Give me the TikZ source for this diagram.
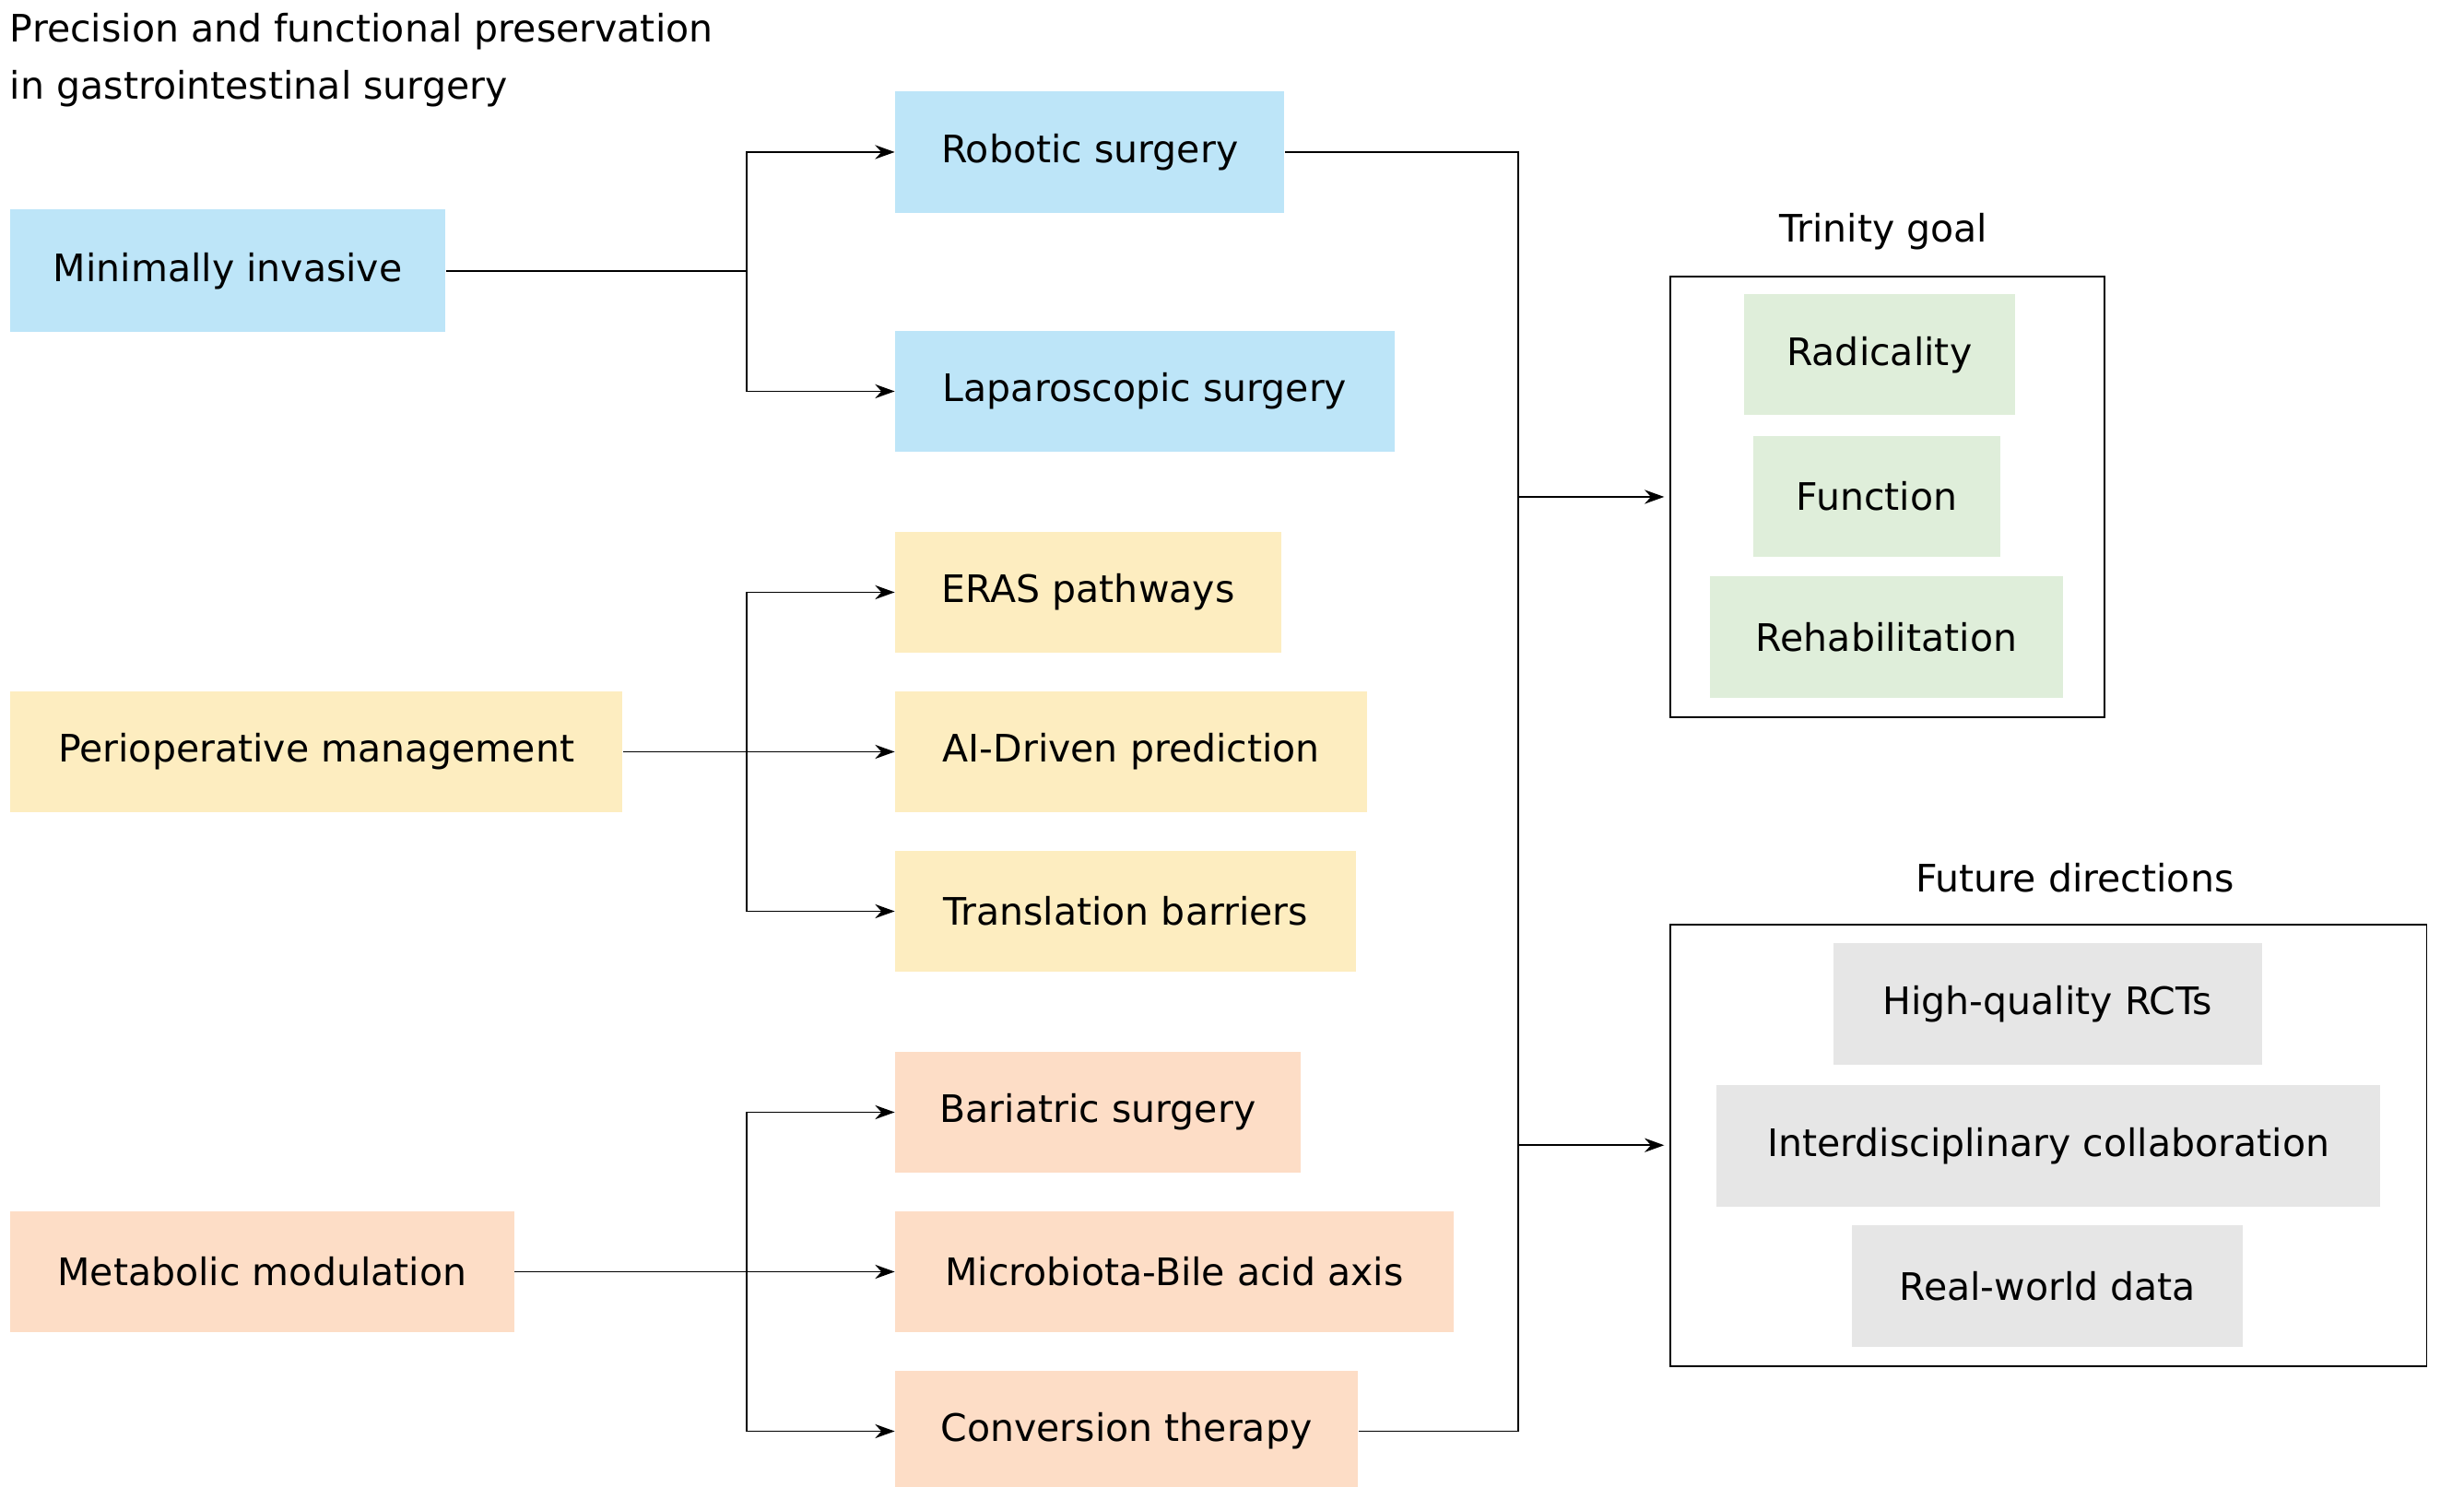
\documentclass[tikz,border=0pt]{standalone}
\usepackage{fontspec}
\setmainfont{DejaVu Sans}
\usetikzlibrary{arrows.meta}
\definecolor{blueb}{HTML}{BDE5F8}
\definecolor{yellowb}{HTML}{FDEDC0}
\definecolor{peachb}{HTML}{FDDDC6}
\definecolor{greenb}{HTML}{DFEEDA}
\definecolor{grayb}{HTML}{E6E6E6}
\tikzset{
  px/.style={x=0.02cm,y=-0.02cm},
  link/.style={draw=black,line width=0.6pt},
  arr/.style={link,-{Stealth[length=7pt,width=5pt]}},
  frame/.style={draw=black,line width=0.6pt}
}
% box from top left (x1,y1) to bottom right (x2,y2)
\newcommand\pbox[7]{%
  \node[anchor=north west,fill=#6,inner sep=0pt,
        minimum width={(#4-#2)*0.02cm},minimum height={(#5-#3)*0.02cm}]
        (#1) at (#2,#3) {#7};}

\begin{document}
\begin{tikzpicture}[px,font=\fontsize{13.5}{16}\selectfont]
\useasboundingbox (0,0) rectangle (1545,932);

\node[anchor=north west,align=left,inner sep=0pt,font=\fontsize{13.5}{20.5}\selectfont] (title) at (6,8)
  {Precision and functional preservation\\in gastrointestinal surgery};

% -------- left column --------
\pbox{mini}{6}{131}{279}{208}{blueb}{Minimally invasive}
\pbox{peri}{6}{433}{390}{509}{yellowb}{Perioperative management}
\pbox{meta}{6}{759}{322}{835}{peachb}{Metabolic modulation}

% -------- middle column --------
\pbox{robo}{561}{57}{805}{133}{blueb}{Robotic surgery}
\pbox{lapa}{561}{207}{874}{283}{blueb}{Laparoscopic surgery}
\pbox{eras}{561}{333}{803}{409}{yellowb}{ERAS pathways}
\pbox{aidp}{561}{433}{857}{509}{yellowb}{AI-Driven prediction}
\pbox{tran}{561}{533}{850}{609}{yellowb}{Translation barriers}
\pbox{bari}{561}{659}{815}{735}{peachb}{Bariatric surgery}
\pbox{micr}{561}{759}{911}{835}{peachb}{Microbiota-Bile acid axis}
\pbox{conv}{561}{859}{851}{935}{peachb}{Conversion therapy}

% -------- right column --------
\node[frame,anchor=north west,minimum width={272*0.02cm},minimum height={276*0.02cm}] (trin) at (1047,173) {};
\node[anchor=south] (trinT) at (1181,163) {Trinity goal};
\pbox{radi}{1093}{184}{1263}{260}{greenb}{Radicality}
\pbox{func}{1099}{273}{1254}{349}{greenb}{Function}
\pbox{reha}{1072}{361}{1293}{437}{greenb}{Rehabilitation}

\node[frame,anchor=north west,minimum width={474*0.02cm},minimum height={277*0.02cm}] (futu) at (1047,579) {};
\node[anchor=south] (futuT) at (1301,566) {Future directions};
\pbox{rcts}{1149}{591}{1418}{667}{grayb}{High-quality RCTs}
\pbox{inte}{1076}{680}{1492}{756}{grayb}{Interdisciplinary collaboration}
\pbox{real}{1161}{768}{1406}{844}{grayb}{Real-world data}

% -------- connectors --------
\coordinate (bx) at (468,0);
\draw[link] (mini.east) -- (mini.east -| bx);
\draw[arr] (mini.east -| bx) |- (robo.west);
\draw[arr] (mini.east -| bx) |- (lapa.west);
\draw[arr] (peri.east) -- (aidp.west);
\draw[arr] (peri.east -| bx) |- (eras.west);
\draw[arr] (peri.east -| bx) |- (tran.west);
\draw[arr] (meta.east) -- (micr.west);
\draw[arr] (meta.east -| bx) |- (bari.west);
\draw[arr] (meta.east -| bx) |- (conv.west);

\coordinate (cx) at (952,0);
\draw[link] (robo.east) -| (cx |- conv.east) -- (conv.east);
\draw[arr] (cx |- trin.west) -- ([xshift=-2]trin.west);
\draw[arr] (cx |- futu.west) -- ([xshift=-2]futu.west);
\end{tikzpicture}
\end{document}
